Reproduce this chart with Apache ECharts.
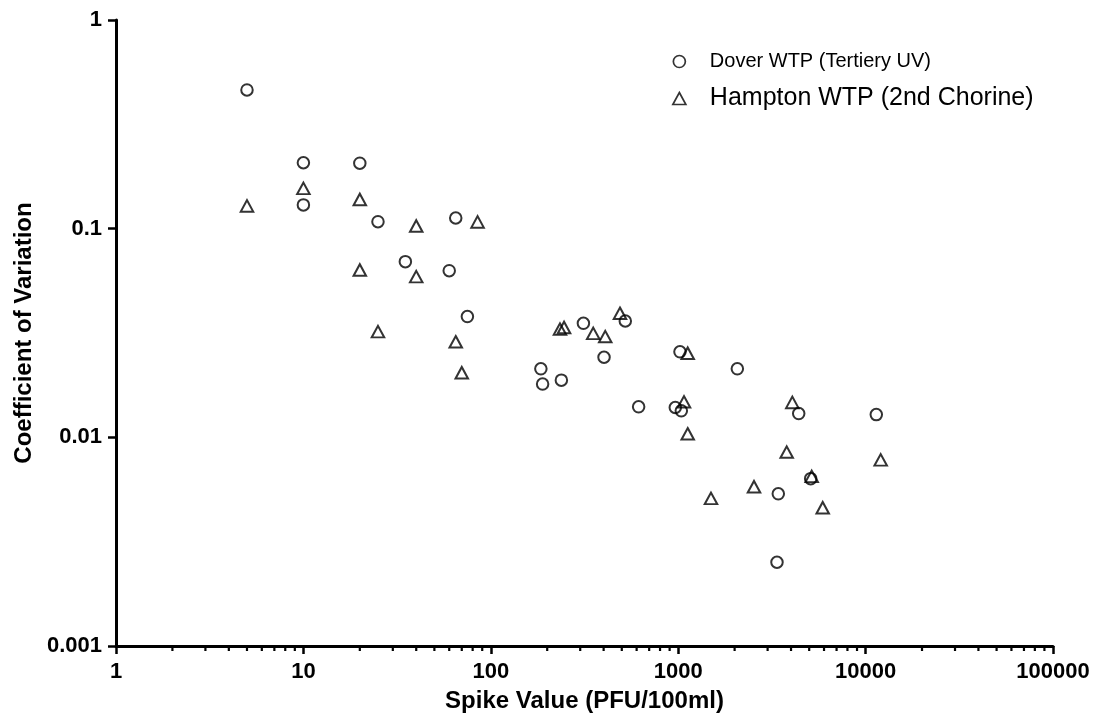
<!DOCTYPE html>
<html>
<head>
<meta charset="utf-8">
<script src="https://cdn.jsdelivr.net/npm/echarts@6/dist/echarts.min.js"></script>
<style>
html,body{margin:0;padding:0;background:#fff;}
#chart{width:1095px;height:724px;}
</style>
</head>
<body>
<div id="chart"></div>
<script>
// ---- data ----
const SERIES_NAMES = ['Dover WTP (Tertiery UV)', 'Hampton WTP (2nd Chorine)'];

const DOVER_X = [5, 10, 10, 20, 25, 35, 60, 65, 75, 185, 189, 238, 312, 402, 522, 615, 1022, 965, 1039, 2068, 4396, 11404, 5093, 3421, 3366];
const DOVER_Y = [0.462, 0.207, 0.130, 0.206, 0.108, 0.0695, 0.0629, 0.1125, 0.0379, 0.0213, 0.0180, 0.0188, 0.0352, 0.0242, 0.0361, 0.0140, 0.0257, 0.0139, 0.0134, 0.0213, 0.0130, 0.01285, 0.00634, 0.00536, 0.00252];

const HAMPTON_X = [5, 10, 20, 20, 25, 40, 40, 85, 65, 70, 234, 246, 352, 408, 489, 1124, 1074, 1124, 4064, 3793, 12038, 5157, 2538, 1496, 5904];
const HAMPTON_Y = [0.1285, 0.156, 0.138, 0.0634, 0.0321, 0.103, 0.0589, 0.1077, 0.0287, 0.0204, 0.0330, 0.0336, 0.0315, 0.0304, 0.0393, 0.0253, 0.0148, 0.0104, 0.0147, 0.0085, 0.0078, 0.0065, 0.0058, 0.0051, 0.0046];

const X_TICK_LABELS = ['1', '10', '100', '1000', '10000', '100000'];
const Y_TICK_LABELS = ['0.001', '0.01', '0.1', '1'];
const X_MINOR_TICKS = [2, 3, 4, 5, 6, 7, 8, 9,
  20, 30, 40, 50, 60, 70, 80, 90,
  200, 300, 400, 500, 600, 700, 800, 900,
  2000, 3000, 4000, 5000, 6000, 7000, 8000, 9000,
  20000, 30000, 40000, 50000, 60000, 70000, 80000, 90000];

const X_MIN = 1, X_MAX = 100000, Y_MIN = 0.001, Y_MAX = 1;

// ---- chart ----
const FONT = "'Liberation Sans', Arial, Helvetica, sans-serif";
const chart = echarts.init(document.getElementById('chart'), null, {renderer: 'canvas'});

function zip(xs, ys) { return xs.map((x, i) => [x, ys[i]]); }

const markerStyle = {color: 'rgba(255,255,255,0)', borderColor: '#000', borderWidth: 2};

const option = {
  backgroundColor: '#fff',
  animation: false,
  grid: {left: 116, top: 20, width: 937, height: 626, containLabel: false},
  legend: {
    orient: 'vertical',
    left: 667,
    top: 44,
    itemWidth: 13,
    itemHeight: 12,
    itemGap: 12,
    selectedMode: false,
    data: [
      {name: SERIES_NAMES[0], icon: 'circle'},
      {name: SERIES_NAMES[1], icon: 'triangle'}
    ],
    itemStyle: {color: 'rgba(255,255,255,0)', borderColor: '#000', borderWidth: 1.7},
    formatter: function (name) {
      return name === SERIES_NAMES[0] ? '{n|' + name + '}' : '{w|' + name + '}';
    },
    textStyle: {
      color: '#000',
      fontSize: 25,
      lineHeight: 25,
      fontFamily: FONT,
      rich: {
        n: {fontSize: 20, lineHeight: 25, color: '#000', fontFamily: FONT, padding: [0, 0, 0, 19]},
        w: {fontSize: 25, lineHeight: 25, color: '#000', fontFamily: FONT, padding: [0, 0, 0, 19]}
      }
    }
  },
  xAxis: {
    type: 'log',
    logBase: 10,
    min: X_MIN,
    max: X_MAX,
    name: 'Spike Value (PFU/100ml)',
    nameLocation: 'middle',
    nameGap: 43,
    nameTextStyle: {color: '#000', fontSize: 24, fontWeight: 'bold', fontFamily: FONT},
    axisLine: {show: true, onZero: false, lineStyle: {color: '#000', width: 3}},
    axisTick: {show: true, inside: false, length: 8, lineStyle: {color: '#000', width: 2.5}},
    minorTick: {show: false},
    splitLine: {show: false},
    axisLabel: {
      color: '#000', fontSize: 22, fontWeight: 'bold', fontFamily: FONT, margin: 15,
      formatter: function (v) { return X_TICK_LABELS[Math.round(Math.log10(v))]; }
    }
  },
  yAxis: {
    type: 'log',
    logBase: 10,
    min: Y_MIN,
    max: Y_MAX,
    name: 'Coefficient of Variation',
    nameLocation: 'middle',
    nameRotate: 90,
    nameGap: 80,
    nameTextStyle: {color: '#000', fontSize: 24, fontWeight: 'bold', fontFamily: FONT},
    axisLine: {show: true, onZero: false, lineStyle: {color: '#000', width: 3}},
    axisTick: {show: true, inside: false, length: 8, lineStyle: {color: '#000', width: 2.5}},
    splitLine: {show: false},
    axisLabel: {
      color: '#000', fontSize: 22, fontWeight: 'bold', fontFamily: FONT, margin: 14,
      formatter: function (v) { return Y_TICK_LABELS[Math.round(Math.log10(v)) + 3]; }
    }
  },
  series: [
    {
      name: SERIES_NAMES[0],
      type: 'scatter',
      symbol: 'circle',
      symbolSize: 11.5,
      itemStyle: markerStyle,
      data: zip(DOVER_X, DOVER_Y),
      z: 3
    },
    {
      name: SERIES_NAMES[1],
      type: 'scatter',
      symbol: 'triangle',
      symbolSize: [12.5, 11.5],
      itemStyle: markerStyle,
      data: zip(HAMPTON_X, HAMPTON_Y),
      z: 3
    },
    {
      name: 'minorTicks',
      type: 'custom',
      silent: true,
      clip: false,
      data: X_MINOR_TICKS.map(v => [v, Y_MIN]),
      renderItem: function (params, api) {
        const p = api.coord([api.value(0), api.value(1)]);
        return {
          type: 'line',
          shape: {x1: p[0], y1: p[1], x2: p[0], y2: p[1] + 5},
          style: {stroke: '#000', lineWidth: 2.2}
        };
      },
      z: 4
    }
  ]
};
chart.setOption(option);
</script>
</body>
</html>
